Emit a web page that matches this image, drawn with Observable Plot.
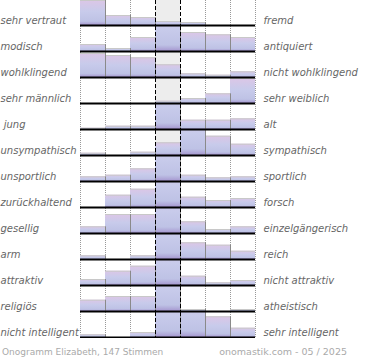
<!DOCTYPE html>
<html><head><meta charset="utf-8">
<script src="https://cdn.jsdelivr.net/npm/d3@7"></script>
<script src="https://cdn.jsdelivr.net/npm/@observablehq/plot@0.6"></script>
<style>
body{margin:0;background:#fff;font-family:"DejaVu Sans",sans-serif;}
#wrap{position:relative;width:370px;height:360px;overflow:hidden;}
#chart svg text{white-space:pre;}
.foot{position:absolute;top:346px;line-height:11px;color:#aaa;white-space:nowrap;}
</style></head><body>
<div id="wrap">
<div id="chart"></div>
<div class="foot" id="footL" style="left:2px;font-size:9px;top:346.5px"></div>
<div class="foot" id="footR" style="right:23px;font-size:9.5px"></div>
</div>
<script>
// Left and right pole labels of each semantic scale
const leftLabels = ["sehr vertraut","modisch","wohlklingend","sehr männlich"," jung","unsympathisch","unsportlich","zurückhaltend","gesellig","arm","attraktiv","religiös","nicht intelligent"];
const rightLabels = ["fremd","antiquiert","nicht wohlklingend","sehr weiblich","alt","sympathisch","sportlich","forsch","einzelgängerisch","reich","nicht attraktiv","atheistisch","sehr intelligent"];
// Share of votes in the 7 answer columns (values above the row height are clipped)
const sehrVertraut   = [25, 10, 8, 4, 3, 0, 0];
const modisch        = [7, 3, 14, 40, 19, 16.7, 14];
const wohlklingend   = [24, 22, 19.7, 12.7, 3.7, 2.3, 5.7];
const sehrMaennlich  = [0, 0, 0, 2.3, 5, 9.7, 25];
const jung           = [1.3, 3.3, 3.3, 40, 9.3, 9.3, 10.7];
const unsympathisch  = [2.3, 0, 3.3, 12.7, 40, 19.3, 11.3];
const unsportlich    = [4.7, 6.3, 12.7, 40, 6.3, 3.7, 4.7];
const zurueckhaltend = [0, 12.3, 18.3, 40, 10.3, 7, 9];
const gesellig       = [6.7, 19, 19, 40, 11.7, 4, 6.7];
const arm            = [3.7, 0, 3.7, 40, 16.7, 14.3, 8.3];
const attraktiv      = [6, 14.3, 19.3, 40, 9.3, 2.7, 5];
const religioes      = [11.3, 15, 15, 40, 2, 0, 2];
const nichtIntell    = [2.7, 0, 5, 40, 40, 20.7, 9.3];
const caption = "Onogramm Elizabeth, 147 Stimmen";
const credit = "onomastik.com - 05 / 2025";

const series = [sehrVertraut, modisch, wohlklingend, sehrMaennlich, jung, unsympathisch, unsportlich, zurueckhaltend, gesellig, arm, attraktiv, religioes, nichtIntell];
const nCols = 7, middle = 3, rowMax = 25;
const data = [];
series.forEach((row, r) => row.forEach((v, c) => { if (v > 0) data.push({row: r, col: c, v}); }));
const rows = leftLabels.map((l, r) => ({row: r, left: l, right: rightLabels[r]}));
const bounds = d3.range(nCols + 1);
const dotted = bounds.filter(b => b !== middle && b !== middle + 1);
const dashed = [middle, middle + 1];

const chart = Plot.plot({
  width: 370, height: 338,
  marginLeft: 80, marginRight: 115, marginTop: 0, marginBottom: 0,
  x: {domain: [0, nCols], axis: null},
  y: {domain: [0, rowMax], axis: null, insetBottom: 1},
  fy: {domain: d3.range(leftLabels.length), axis: null, padding: 0},
  style: {fontFamily: "DejaVu Sans", fontSize: "10px", background: "white"},
  marks: [
    Plot.rectY(rows, {fy: "row", x1: () => middle, x2: () => middle + 1, y1: 0, y2: () => rowMax * 2, fill: "#ededed", clip: true}),
    Plot.ruleX(dotted, {stroke: "#999", strokeDasharray: "1,1"}),
    Plot.rectY(data, {fy: "row", x1: "col", x2: d => d.col + 1, y1: 0, y2: "v", fill: "url(#barGrad)", clip: true}),
    Plot.ruleY(data, {fy: "row", x1: "col", x2: d => d.col + 1, y: "v", stroke: "#c8c8c8", clip: true}),
    Plot.ruleX(data, {fy: "row", x: d => d.col + 1, y1: 0, y2: "v", stroke: "#8a8a8a", clip: true}),
    Plot.ruleX(dashed, {stroke: "black", strokeDasharray: "4,2"}),
    Plot.ruleY([0], {stroke: "black", strokeWidth: 2}),
    Plot.text(rows, {fy: "row", text: "left", frameAnchor: "bottom-left", lineAnchor: "bottom", textAnchor: "start", dx: -80, dy: -3, fill: "#666", fontStyle: "italic"}),
    Plot.text(rows, {fy: "row", text: "right", frameAnchor: "bottom-right", lineAnchor: "bottom", textAnchor: "start", dx: 8, dy: -3, fill: "#666", fontStyle: "italic"})
  ]
});
const ns = "http://www.w3.org/2000/svg";
const defs = document.createElementNS(ns, "defs");
const grad = document.createElementNS(ns, "linearGradient");
grad.setAttribute("id", "barGrad");
grad.setAttribute("x1", "0"); grad.setAttribute("y1", "0");
grad.setAttribute("x2", "0"); grad.setAttribute("y2", "1");
[["0", "#dcc6e6"], ["0.45", "#c8cbeb"], ["0.85", "#bec2e5"], ["1", "#a596cf"]].forEach(([o, c]) => {
  const s = document.createElementNS(ns, "stop");
  s.setAttribute("offset", o); s.setAttribute("stop-color", c);
  grad.appendChild(s);
});
defs.appendChild(grad);
chart.insertBefore(defs, chart.firstChild);
document.getElementById("chart").appendChild(chart);
document.getElementById("footL").textContent = caption;
document.getElementById("footR").textContent = credit;
</script>
</body></html>
